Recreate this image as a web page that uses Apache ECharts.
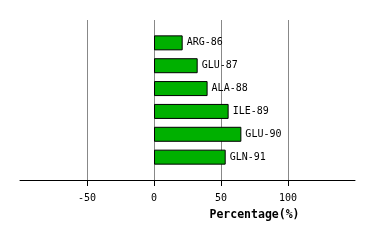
<!DOCTYPE html>
<html><head><meta charset="utf-8">
<script src="https://cdn.jsdelivr.net/npm/echarts@6/dist/echarts.min.js"></script>
<style>html,body{margin:0;padding:0;background:#fff}#c{width:374px;height:240px}</style>
</head><body><div id="c"></div>
<script>
var categories = ['ARG-86', 'GLU-87', 'ALA-88', 'ILE-89', 'GLU-90', 'GLN-91'];
var values = [21.4, 32.6, 40.0, 55.7, 65.2, 53.5];
var tickValues = [-50, 0, 50, 100];

var yCats = [''].concat(categories, ['']);
var chart = echarts.init(document.getElementById('c'));
chart.setOption({
  animation: false,
  grid: {left: 20, right: 19, top: 20, bottom: 60, containLabel: false},
  xAxis: {
    type: 'value', min: -100, max: 150, interval: 50,
    axisLine: {show: true, lineStyle: {color: '#000', width: 1}},
    axisTick: {show: true, length: 6, lineStyle: {color: '#000'}, customValues: tickValues},
    axisLabel: {color: '#000', fontFamily: 'DejaVu Sans Mono', fontSize: 10, margin: 13, customValues: tickValues},
    splitLine: {show: true, lineStyle: {color: '#888', width: 1}},
    name: 'Percentage(%)', nameLocation: 'middle', nameGap: 29,
    nameTextStyle: {color: '#000', fontFamily: 'DejaVu Sans Mono', fontSize: 11.5, fontWeight: 'bold', padding: [0, 0, 0, 134]}
  },
  yAxis: {
    type: 'category', data: yCats, inverse: true, boundaryGap: false,
    axisLine: {show: false}, axisTick: {show: false}, axisLabel: {show: false}, splitLine: {show: false}
  },
  series: [{
    type: 'bar',
    data: [null].concat(values, [null]),
    barWidth: 15,
    itemStyle: {color: '#00b000', borderColor: '#000', borderWidth: 1},
    label: {show: true, position: 'right', distance: 4, formatter: function (p) { return yCats[p.dataIndex]; },
      color: '#000', fontFamily: 'DejaVu Sans Mono', fontSize: 10}
  }]
});
</script></body></html>
